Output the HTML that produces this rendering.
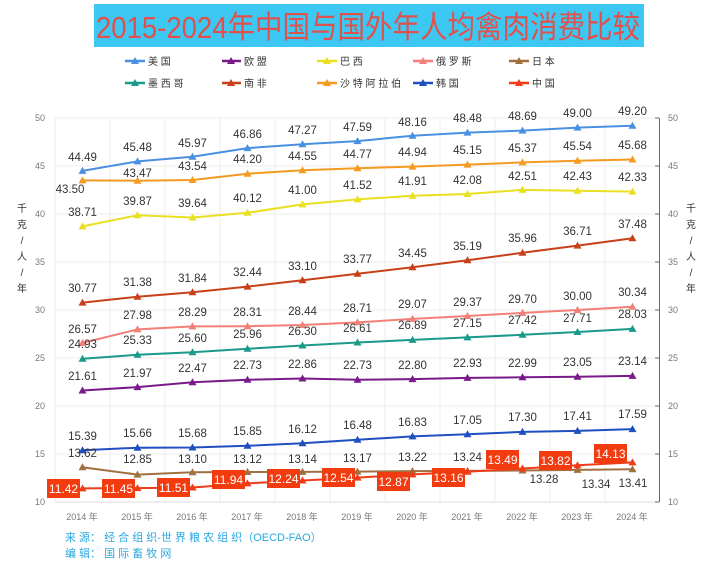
<!DOCTYPE html>
<html><head><meta charset="utf-8"><style>
html,body{margin:0;padding:0;background:#fff;}
svg{display:block;font-family:"Liberation Sans","Noto Sans CJK SC",sans-serif;}
.dl{font-size:11.5px;fill:#333;text-anchor:middle;}
.ax{font-size:9px;fill:#777;}
.cl{font-size:12px;fill:#fff;text-anchor:middle;}
.lg{font-size:10px;fill:#333;}
</style></head><body>
<svg width="713" height="565" viewBox="0 0 713 565" xmlns="http://www.w3.org/2000/svg">
<rect x="0" y="0" width="713" height="565" fill="#fff"/>
<rect x="94" y="4" width="550" height="43" fill="#3cc8f2"/>
<text x="96" y="38" font-size="31" fill="#e2504c" textLength="544" lengthAdjust="spacingAndGlyphs" style="font-family:'Liberation Sans','Noto Sans CJK SC',sans-serif">2015-2024年中国与国外年人均禽肉消费比较</text>

<g stroke-width="2.5">
<line x1="125" y1="61" x2="145" y2="61" stroke="#4a90e2"/><line x1="222" y1="61" x2="241" y2="61" stroke="#7a1a8a"/><line x1="317" y1="61" x2="337" y2="61" stroke="#e8e020"/><line x1="413" y1="61" x2="433" y2="61" stroke="#f28078"/><line x1="509" y1="61" x2="529" y2="61" stroke="#a07040"/>
<line x1="125" y1="83" x2="145" y2="83" stroke="#1a9a8a"/><line x1="222" y1="83" x2="241" y2="83" stroke="#c8401a"/><line x1="317" y1="83" x2="337" y2="83" stroke="#f59a20"/><line x1="413" y1="83" x2="433" y2="83" stroke="#2050c0"/><line x1="509" y1="83" x2="529" y2="83" stroke="#f03a1a"/>
</g>
<g class="lg">
<text x="148" y="65">美 国</text><text x="244" y="65">欧 盟</text><text x="340" y="65">巴 西</text><text x="436" y="65">俄 罗 斯</text><text x="532" y="65">日 本</text>
<text x="148" y="87">墨 西 哥</text><text x="244" y="87">南 非</text><text x="340" y="87">沙 特 阿 拉 伯</text><text x="436" y="87">韩 国</text><text x="532" y="87">中 国</text>
</g>

<g stroke="#ececec" stroke-width="1">
<line x1="55" y1="118" x2="660" y2="118"/><line x1="55" y1="166" x2="660" y2="166"/><line x1="55" y1="214" x2="660" y2="214"/><line x1="55" y1="262" x2="660" y2="262"/><line x1="55" y1="310" x2="660" y2="310"/><line x1="55" y1="358" x2="660" y2="358"/><line x1="55" y1="406" x2="660" y2="406"/><line x1="55" y1="454" x2="660" y2="454"/>
<line x1="110" y1="118" x2="110" y2="502"/><line x1="165" y1="118" x2="165" y2="502"/><line x1="220" y1="118" x2="220" y2="502"/><line x1="275" y1="118" x2="275" y2="502"/><line x1="330" y1="118" x2="330" y2="502"/><line x1="385" y1="118" x2="385" y2="502"/><line x1="440" y1="118" x2="440" y2="502"/><line x1="495" y1="118" x2="495" y2="502"/><line x1="550" y1="118" x2="550" y2="502"/><line x1="605" y1="118" x2="605" y2="502"/>
<line x1="55" y1="118" x2="55" y2="502"/>
</g>
<line x1="55" y1="502" x2="660" y2="502" stroke="#ddd"/>
<line x1="659.5" y1="118" x2="659.5" y2="502" stroke="#666"/>
<g stroke="#666"><line x1="655" y1="118" x2="659" y2="118"/><line x1="655" y1="166" x2="659" y2="166"/><line x1="655" y1="214" x2="659" y2="214"/><line x1="655" y1="262" x2="659" y2="262"/><line x1="655" y1="310" x2="659" y2="310"/><line x1="655" y1="358" x2="659" y2="358"/><line x1="655" y1="406" x2="659" y2="406"/><line x1="655" y1="454" x2="659" y2="454"/><line x1="655" y1="502" x2="659" y2="502"/></g>

<g class="ax" text-anchor="end">
<text x="45" y="121">50</text><text x="45" y="169">45</text><text x="45" y="217">40</text><text x="45" y="265">35</text><text x="45" y="313">30</text><text x="45" y="361">25</text><text x="45" y="409">20</text><text x="45" y="457">15</text><text x="45" y="505">10</text>
</g>
<g class="ax">
<text x="668" y="121">50</text><text x="668" y="169">45</text><text x="668" y="217">40</text><text x="668" y="265">35</text><text x="668" y="313">30</text><text x="668" y="361">25</text><text x="668" y="409">20</text><text x="668" y="457">15</text><text x="668" y="505">10</text>
</g>
<g font-size="10" fill="#333" text-anchor="middle">
<text x="22" y="212">千</text><text x="22" y="228">克</text><text x="22" y="244">/</text><text x="22" y="260">人</text><text x="22" y="276">/</text><text x="22" y="292">年</text>
<text x="691" y="212">千</text><text x="691" y="228">克</text><text x="691" y="244">/</text><text x="691" y="260">人</text><text x="691" y="276">/</text><text x="691" y="292">年</text>
</g>
<g class="ax" text-anchor="middle">
<text x="82" y="520">2014 年</text><text x="137" y="520">2015 年</text><text x="192" y="520">2016 年</text><text x="247" y="520">2017 年</text><text x="302" y="520">2018 年</text><text x="357" y="520">2019 年</text><text x="412" y="520">2020 年</text><text x="467" y="520">2021 年</text><text x="522" y="520">2022 年</text><text x="577" y="520">2023 年</text><text x="632" y="520">2024 年</text>
</g>

<g fill="none" stroke-width="2" stroke-linejoin="round">
<polyline stroke="#4a90e2" points="82.5,170.9 137.5,161.4 192.5,156.7 247.5,148.1 302.5,144.2 357.5,141.1 412.5,135.7 467.5,132.6 522.5,130.6 577.5,127.6 632.5,125.7"/>
<polyline stroke="#f59a20" points="82.5,180.4 137.5,180.7 192.5,180.0 247.5,173.7 302.5,170.3 357.5,168.2 412.5,166.6 467.5,164.6 522.5,162.4 577.5,160.8 632.5,159.5"/>
<polyline stroke="#e8e020" points="82.5,226.4 137.5,215.2 192.5,217.5 247.5,212.8 302.5,204.4 357.5,199.4 412.5,195.7 467.5,194.0 522.5,189.9 577.5,190.7 632.5,191.6"/>
<polyline stroke="#c8401a" points="82.5,302.6 137.5,296.8 192.5,292.3 247.5,286.6 302.5,280.2 357.5,273.8 412.5,267.3 467.5,260.2 522.5,252.8 577.5,245.6 632.5,238.2"/>
<polyline stroke="#f28078" points="82.5,342.9 137.5,329.4 192.5,326.4 247.5,326.2 302.5,325.0 357.5,322.4 412.5,318.9 467.5,316.0 522.5,312.9 577.5,310.0 632.5,306.7"/>
<polyline stroke="#1a9a8a" points="82.5,358.7 137.5,354.8 192.5,352.2 247.5,348.8 302.5,345.5 357.5,342.5 412.5,339.9 467.5,337.4 522.5,334.8 577.5,332.0 632.5,328.9"/>
<polyline stroke="#7a1a8a" points="82.5,390.5 137.5,387.1 192.5,382.3 247.5,379.8 302.5,378.5 357.5,379.8 412.5,379.1 467.5,377.9 522.5,377.3 577.5,376.7 632.5,375.9"/>
<polyline stroke="#2050c0" points="82.5,450.3 137.5,447.7 192.5,447.5 247.5,445.8 302.5,443.2 357.5,439.8 412.5,436.4 467.5,434.3 522.5,431.9 577.5,430.9 632.5,429.1"/>
<polyline stroke="#a07040" points="82.5,467.2 137.5,474.6 192.5,472.2 247.5,472.0 302.5,471.9 357.5,471.6 412.5,471.1 467.5,470.9 522.5,470.5 577.5,469.9 632.5,469.3"/>
<polyline stroke="#f03a1a" points="82.5,488.4 137.5,488.1 192.5,487.5 247.5,483.4 302.5,480.5 357.5,477.6 412.5,474.4 467.5,471.7 522.5,468.5 577.5,465.3 632.5,462.4"/>
</g>
<defs><path id="t" d="M0,-4 L4,3 L-4,3 Z"/></defs>
<g fill="#4a90e2"><use href="#t" x="82.5" y="170.9"/><use href="#t" x="137.5" y="161.4"/><use href="#t" x="192.5" y="156.7"/><use href="#t" x="247.5" y="148.1"/><use href="#t" x="302.5" y="144.2"/><use href="#t" x="357.5" y="141.1"/><use href="#t" x="412.5" y="135.7"/><use href="#t" x="467.5" y="132.6"/><use href="#t" x="522.5" y="130.6"/><use href="#t" x="577.5" y="127.6"/><use href="#t" x="632.5" y="125.7"/></g>
<g fill="#f59a20"><use href="#t" x="82.5" y="180.4"/><use href="#t" x="137.5" y="180.7"/><use href="#t" x="192.5" y="180.0"/><use href="#t" x="247.5" y="173.7"/><use href="#t" x="302.5" y="170.3"/><use href="#t" x="357.5" y="168.2"/><use href="#t" x="412.5" y="166.6"/><use href="#t" x="467.5" y="164.6"/><use href="#t" x="522.5" y="162.4"/><use href="#t" x="577.5" y="160.8"/><use href="#t" x="632.5" y="159.5"/></g>
<g fill="#e8e020"><use href="#t" x="82.5" y="226.4"/><use href="#t" x="137.5" y="215.2"/><use href="#t" x="192.5" y="217.5"/><use href="#t" x="247.5" y="212.8"/><use href="#t" x="302.5" y="204.4"/><use href="#t" x="357.5" y="199.4"/><use href="#t" x="412.5" y="195.7"/><use href="#t" x="467.5" y="194.0"/><use href="#t" x="522.5" y="189.9"/><use href="#t" x="577.5" y="190.7"/><use href="#t" x="632.5" y="191.6"/></g>
<g fill="#c8401a"><use href="#t" x="82.5" y="302.6"/><use href="#t" x="137.5" y="296.8"/><use href="#t" x="192.5" y="292.3"/><use href="#t" x="247.5" y="286.6"/><use href="#t" x="302.5" y="280.2"/><use href="#t" x="357.5" y="273.8"/><use href="#t" x="412.5" y="267.3"/><use href="#t" x="467.5" y="260.2"/><use href="#t" x="522.5" y="252.8"/><use href="#t" x="577.5" y="245.6"/><use href="#t" x="632.5" y="238.2"/></g>
<g fill="#f28078"><use href="#t" x="82.5" y="342.9"/><use href="#t" x="137.5" y="329.4"/><use href="#t" x="192.5" y="326.4"/><use href="#t" x="247.5" y="326.2"/><use href="#t" x="302.5" y="325.0"/><use href="#t" x="357.5" y="322.4"/><use href="#t" x="412.5" y="318.9"/><use href="#t" x="467.5" y="316.0"/><use href="#t" x="522.5" y="312.9"/><use href="#t" x="577.5" y="310.0"/><use href="#t" x="632.5" y="306.7"/></g>
<g fill="#1a9a8a"><use href="#t" x="82.5" y="358.7"/><use href="#t" x="137.5" y="354.8"/><use href="#t" x="192.5" y="352.2"/><use href="#t" x="247.5" y="348.8"/><use href="#t" x="302.5" y="345.5"/><use href="#t" x="357.5" y="342.5"/><use href="#t" x="412.5" y="339.9"/><use href="#t" x="467.5" y="337.4"/><use href="#t" x="522.5" y="334.8"/><use href="#t" x="577.5" y="332.0"/><use href="#t" x="632.5" y="328.9"/></g>
<g fill="#7a1a8a"><use href="#t" x="82.5" y="390.5"/><use href="#t" x="137.5" y="387.1"/><use href="#t" x="192.5" y="382.3"/><use href="#t" x="247.5" y="379.8"/><use href="#t" x="302.5" y="378.5"/><use href="#t" x="357.5" y="379.8"/><use href="#t" x="412.5" y="379.1"/><use href="#t" x="467.5" y="377.9"/><use href="#t" x="522.5" y="377.3"/><use href="#t" x="577.5" y="376.7"/><use href="#t" x="632.5" y="375.9"/></g>
<g fill="#2050c0"><use href="#t" x="82.5" y="450.3"/><use href="#t" x="137.5" y="447.7"/><use href="#t" x="192.5" y="447.5"/><use href="#t" x="247.5" y="445.8"/><use href="#t" x="302.5" y="443.2"/><use href="#t" x="357.5" y="439.8"/><use href="#t" x="412.5" y="436.4"/><use href="#t" x="467.5" y="434.3"/><use href="#t" x="522.5" y="431.9"/><use href="#t" x="577.5" y="430.9"/><use href="#t" x="632.5" y="429.1"/></g>
<g fill="#a07040"><use href="#t" x="82.5" y="467.2"/><use href="#t" x="137.5" y="474.6"/><use href="#t" x="192.5" y="472.2"/><use href="#t" x="247.5" y="472.0"/><use href="#t" x="302.5" y="471.9"/><use href="#t" x="357.5" y="471.6"/><use href="#t" x="412.5" y="471.1"/><use href="#t" x="467.5" y="470.9"/><use href="#t" x="522.5" y="470.5"/><use href="#t" x="577.5" y="469.9"/><use href="#t" x="632.5" y="469.3"/></g>
<g fill="#f03a1a"><use href="#t" x="82.5" y="488.4"/><use href="#t" x="137.5" y="488.1"/><use href="#t" x="192.5" y="487.5"/><use href="#t" x="247.5" y="483.4"/><use href="#t" x="302.5" y="480.5"/><use href="#t" x="357.5" y="477.6"/><use href="#t" x="412.5" y="474.4"/><use href="#t" x="467.5" y="471.7"/><use href="#t" x="522.5" y="468.5"/><use href="#t" x="577.5" y="465.3"/><use href="#t" x="632.5" y="462.4"/></g>
<g><use href="#t" x="135" y="61" fill="#4a90e2"/><use href="#t" x="231" y="61" fill="#7a1a8a"/><use href="#t" x="327" y="61" fill="#e8e020"/><use href="#t" x="423" y="61" fill="#f28078"/><use href="#t" x="519" y="61" fill="#a07040"/><use href="#t" x="135" y="83" fill="#1a9a8a"/><use href="#t" x="231" y="83" fill="#c8401a"/><use href="#t" x="327" y="83" fill="#f59a20"/><use href="#t" x="423" y="83" fill="#2050c0"/><use href="#t" x="519" y="83" fill="#f03a1a"/></g>

<g class="dl">
<text x="82.5" y="161">44.49</text><text x="137.5" y="151">45.48</text><text x="192.5" y="147">45.97</text><text x="247.5" y="138">46.86</text><text x="302.5" y="134">47.27</text><text x="357.5" y="131">47.59</text><text x="412.5" y="126">48.16</text><text x="467.5" y="122">48.48</text><text x="522.5" y="120">48.69</text><text x="577.5" y="117">49.00</text><text x="632.5" y="115">49.20</text>
<text x="70" y="193">43.50</text><text x="137.5" y="177">43.47</text><text x="192.5" y="170">43.54</text><text x="247.5" y="163">44.20</text><text x="302.5" y="160">44.55</text><text x="357.5" y="158">44.77</text><text x="412.5" y="156">44.94</text><text x="467.5" y="154">45.15</text><text x="522.5" y="152">45.37</text><text x="577.5" y="150">45.54</text><text x="632.5" y="149">45.68</text>
<text x="82.5" y="216">38.71</text><text x="137.5" y="205">39.87</text><text x="192.5" y="207">39.64</text><text x="247.5" y="202">40.12</text><text x="302.5" y="194">41.00</text><text x="357.5" y="189">41.52</text><text x="412.5" y="185">41.91</text><text x="467.5" y="184">42.08</text><text x="522.5" y="180">42.51</text><text x="577.5" y="180">42.43</text><text x="632.5" y="181">42.33</text>
<text x="82.5" y="292">30.77</text><text x="137.5" y="286">31.38</text><text x="192.5" y="282">31.84</text><text x="247.5" y="276">32.44</text><text x="302.5" y="270">33.10</text><text x="357.5" y="263">33.77</text><text x="412.5" y="257">34.45</text><text x="467.5" y="250">35.19</text><text x="522.5" y="242">35.96</text><text x="577.5" y="235">36.71</text><text x="632.5" y="228">37.48</text>
<text x="82.5" y="333">26.57</text><text x="137.5" y="319">27.98</text><text x="192.5" y="316">28.29</text><text x="247.5" y="316">28.31</text><text x="302.5" y="315">28.44</text><text x="357.5" y="312">28.71</text><text x="412.5" y="308">29.07</text><text x="467.5" y="306">29.37</text><text x="522.5" y="303">29.70</text><text x="577.5" y="300">30.00</text><text x="632.5" y="296">30.34</text>
<text x="82.5" y="348">24.93</text><text x="137.5" y="344">25.33</text><text x="192.5" y="342">25.60</text><text x="247.5" y="338">25.96</text><text x="302.5" y="335">26.30</text><text x="357.5" y="332">26.61</text><text x="412.5" y="329">26.89</text><text x="467.5" y="327">27.15</text><text x="522.5" y="324">27.42</text><text x="577.5" y="322">27.71</text><text x="632.5" y="318">28.03</text>
<text x="82.5" y="380">21.61</text><text x="137.5" y="377">21.97</text><text x="192.5" y="372">22.47</text><text x="247.5" y="369">22.73</text><text x="302.5" y="368">22.86</text><text x="357.5" y="369">22.73</text><text x="412.5" y="369">22.80</text><text x="467.5" y="367">22.93</text><text x="522.5" y="367">22.99</text><text x="577.5" y="366">23.05</text><text x="632.5" y="365">23.14</text>
<text x="82.5" y="440">15.39</text><text x="137.5" y="437">15.66</text><text x="192.5" y="437">15.68</text><text x="247.5" y="435">15.85</text><text x="302.5" y="433">16.12</text><text x="357.5" y="429">16.48</text><text x="412.5" y="426">16.83</text><text x="467.5" y="424">17.05</text><text x="522.5" y="421">17.30</text><text x="577.5" y="420">17.41</text><text x="632.5" y="418">17.59</text>
<text x="82.5" y="457">13.62</text><text x="137.5" y="463">12.85</text><text x="192.5" y="463">13.10</text><text x="247.5" y="463">13.12</text><text x="302.5" y="463">13.14</text><text x="357.5" y="462">13.17</text><text x="412.5" y="461">13.22</text><text x="467.5" y="461">13.24</text><text x="544" y="483">13.28</text><text x="596" y="488">13.34</text><text x="633" y="487">13.41</text>
</g>
<g fill="#f23c10">
<rect x="47" y="479" width="33" height="19"/><rect x="102" y="479" width="33" height="19"/><rect x="157" y="478" width="33" height="19"/><rect x="212" y="470" width="33" height="19"/><rect x="267" y="469" width="33" height="19"/><rect x="322" y="468" width="33" height="19"/><rect x="377" y="472" width="33" height="19"/><rect x="432" y="468" width="33" height="19"/><rect x="486" y="450" width="33" height="19"/><rect x="539" y="451" width="33" height="19"/><rect x="594" y="444" width="33" height="19"/>
</g>
<g class="cl">
<text x="63.5" y="493">11.42</text><text x="118.5" y="493">11.45</text><text x="173.5" y="492">11.51</text><text x="228.5" y="484">11.94</text><text x="283.5" y="483">12.24</text><text x="338.5" y="482">12.54</text><text x="393.5" y="486">12.87</text><text x="448.5" y="482">13.16</text><text x="502.5" y="464">13.49</text><text x="555.5" y="465">13.82</text><text x="610.5" y="458">14.13</text>
</g>

<g font-size="11" fill="#2aa8e0">
<text x="65" y="541">来 源： 经 合 组 织-世 界 粮 农 组 织（OECD-FAO）</text>
<text x="65" y="557">编 辑： 国 际 畜 牧 网</text>
</g>
</svg>
</body></html>
